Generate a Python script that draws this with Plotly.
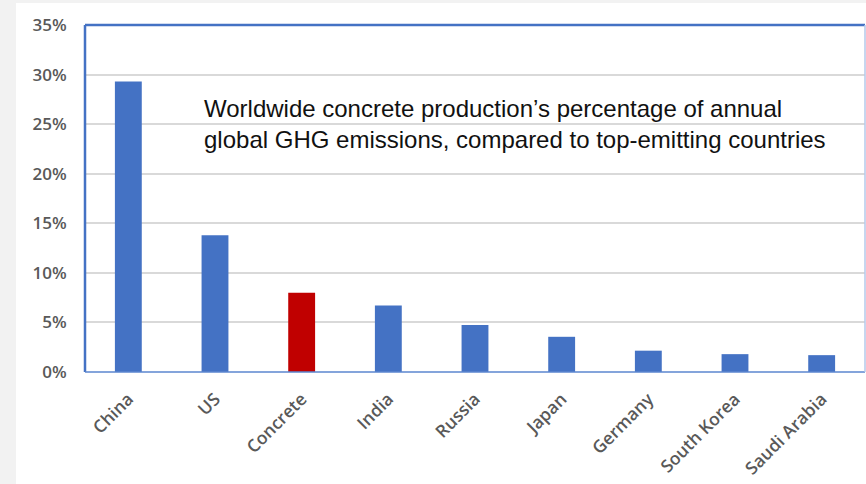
import plotly.graph_objects as go

# Share of annual global GHG emissions (%)
categories = ["China", "US", "Concrete", "India", "Russia", "Japan",
              "Germany", "South Korea", "Saudi Arabia"]
shares = [29.3, 13.8, 8.0, 6.7, 4.75, 3.55, 2.15, 1.8, 1.7]
y_ticks = [0, 5, 10, 15, 20, 25, 30, 35]

BLUE = "#4472C4"
RED = "#C00000"
bar_colors = [RED if c == "Concrete" else BLUE for c in categories]

W, H = 866, 484
L, R, T, B = 85, 1, 25, 112
plot_w = W - L - R
plot_h = H - T - B

fig = go.Figure(
    go.Bar(
        x=categories,
        y=shares,
        marker=dict(color=bar_colors, line=dict(width=0)),
        width=0.31,
        hoverinfo="x+y",
    )
)

x_font = dict(family="Open Sans", size=17.5, color="#595959", weight=600)
y_font = dict(family="Open Sans", size=17, color="#595959", weight=600)

fig.update_layout(
    width=W,
    height=H,
    margin=dict(l=L, r=R, t=T, b=B),
    paper_bgcolor="#f2f2f2",
    plot_bgcolor="white",
    showlegend=False,
    xaxis=dict(
        automargin=False,
        tickangle=-45,
        tickfont=x_font,
        ticks="outside",
        ticklen=9,
        tickcolor="rgba(0,0,0,0)",
        showgrid=False,
        showline=False,
        zeroline=False,
    ),
    yaxis=dict(
        automargin=False,
        range=[0, 35],
        tickvals=y_ticks,
        ticktext=[f"{v}%" for v in y_ticks],
        tickfont=y_font,
        ticks="outside",
        ticklen=14,
        tickcolor="rgba(0,0,0,0)",
        showgrid=True,
        gridcolor="#d9d9d9",
        gridwidth=1.5,
        zeroline=False,
        showline=False,
    ),
    shapes=[
        # white card behind the chart
        dict(type="rect", xref="paper", yref="paper", layer="below",
             x0=(16 - L) / plot_w, x1=1 + R / plot_w + 0.01,
             y0=-(B + 2) / plot_h, y1=1 + (T - 3) / plot_h,
             fillcolor="white", line=dict(width=0)),
        # plot frame
        dict(type="line", xref="paper", yref="paper", x0=0, x1=1, y0=1, y1=1,
             line=dict(color=BLUE, width=2.5)),
        dict(type="line", xref="paper", yref="paper", x0=0, x1=0, y0=0, y1=1,
             line=dict(color=BLUE, width=2.5)),
        dict(type="line", xref="paper", yref="paper", x0=0, x1=1, y0=0, y1=0,
             line=dict(color="#5b86cf", width=1.5)),
        dict(type="line", xref="paper", yref="paper", x0=1, x1=1, y0=0, y1=1,
             line=dict(color="#b4c8ea", width=1.5)),
    ],
    annotations=[
        dict(
            xref="paper", yref="y",
            x=(202 - L) / plot_w, y=25.0,
            xanchor="left", yanchor="middle", align="left",
            showarrow=False,
            text="Worldwide concrete production’s percentage of annual<br>"
                 "global GHG emissions, compared to top-emitting countries",
            font=dict(family="Liberation Sans", size=24, color="#111111"),
        )
    ],
)

fig.write_html("out.html")
